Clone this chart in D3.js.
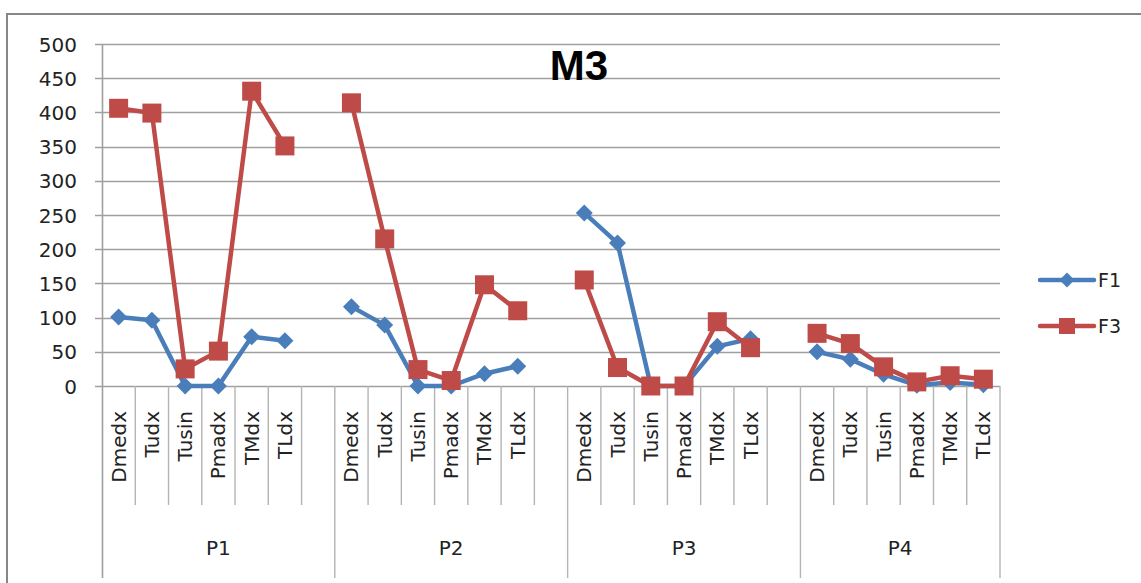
<!DOCTYPE html>
<html>
<head>
<meta charset="utf-8">
<script src="https://cdn.jsdelivr.net/npm/d3@7"></script>
<style>
  html, body { margin: 0; padding: 0; background: #fff; }
  svg { display: block; }
</style>
</head>
<body>
<svg id="chart" width="1141" height="583"></svg>
<script>
// Category groups and the measures inside each group
const groups = ["P1", "P2", "P3", "P4"];
const measures = ["Dmedx", "Tudx", "Tusin", "Pmadx", "TMdx", "TLdx"];

// Series values, six per group in the order of `measures`
const f1Values = [
  101, 96, 0, 0, 72, 66,
  116, 89, 0, 0, 18, 29,
  253, 209, 0, 0, 58, 69,
  50, 39, 17, 1, 5, 2
];
const f3Values = [
  406, 399, 25, 51, 431, 351,
  414, 215, 24, 8, 148, 110,
  155, 27, 0, 0, 94, 56,
  77, 62, 28, 6, 15, 10
];

const yTicks = [0, 50, 100, 150, 200, 250, 300, 350, 400, 450, 500];
const seriesNames = ["F1", "F3"];

const svg = d3.select("#chart");
const W = 1141, H = 583;
const FONT = "DejaVu Sans, Verdana, sans-serif";

// Slots along the category axis: every group but the last is followed by an empty slot
const slots = [];
groups.forEach((g, gi) => {
  measures.forEach((m, mi) => slots.push({ id: g + "|" + m, group: g, label: m, idx: gi * measures.length + mi }));
  if (gi < groups.length - 1) slots.push({ id: g + "|gap", group: g, label: "", idx: null });
});

const plot = { left: 102, right: 1000, top: 44, bottom: 386 };

const x = d3.scaleBand()
  .domain(slots.map(s => s.id))
  .range([plot.left, plot.right])
  .padding(0);

const y = d3.scaleLinear()
  .domain([0, 500])
  .range([plot.bottom, plot.top]);

// Outer chart frame
svg.append("rect")
  .attr("x", 7).attr("y", 14)
  .attr("width", W + 20).attr("height", H + 20)
  .attr("fill", "#fff")
  .attr("stroke", "#878787")
  .attr("stroke-width", 2);

// Horizontal gridlines with tick marks running left of the axis
svg.append("g")
  .selectAll("line")
  .data(yTicks)
  .join("line")
  .attr("x1", plot.left - 7).attr("x2", plot.right)
  .attr("y1", d => Math.round(y(d)) + 0.5).attr("y2", d => Math.round(y(d)) + 0.5)
  .attr("stroke", "#a0a0a0")
  .attr("stroke-width", 1.6);

// Value axis
const yAxis = svg.append("g")
  .attr("transform", `translate(${plot.left},0)`)
  .call(d3.axisLeft(y).tickValues(yTicks).tickSize(0).tickPadding(25));
yAxis.select(".domain").remove();
yAxis.selectAll("text")
  .attr("font-family", FONT)
  .attr("font-size", 20)
  .attr("fill", "#222")
  .attr("dy", "0.35em");

// Vertical axis line, extended down through the category area
svg.append("line")
  .attr("x1", plot.left + 0.5).attr("x2", plot.left + 0.5)
  .attr("y1", plot.top).attr("y2", 578)
  .attr("stroke", "#a0a0a0").attr("stroke-width", 1.6);

// Slot separators in the category area
const sepG = svg.append("g");
slots.forEach((s, i) => {
  const xr = x(s.id) + x.bandwidth();
  const isGroupEnd = (i === slots.length - 1) || slots[i + 1].group !== s.group;
  sepG.append("line")
    .attr("x1", xr).attr("x2", xr)
    .attr("y1", plot.bottom).attr("y2", isGroupEnd ? 578 : 505)
    .attr("stroke", "#b4b4b4").attr("stroke-width", 1.4);
});

// Measure labels, rotated
svg.append("g")
  .selectAll("text")
  .data(slots.filter(s => s.label))
  .join("text")
  .attr("transform", d => `translate(${x(d.id) + x.bandwidth() / 2 + 7},411) rotate(-90)`)
  .attr("text-anchor", "end")
  .attr("font-family", FONT)
  .attr("font-size", 20)
  .attr("fill", "#222")
  .text(d => d.label);

// Group labels centred under each group
svg.append("g")
  .selectAll("text")
  .data(groups)
  .join("text")
  .attr("x", g => {
    const ids = slots.filter(s => s.group === g);
    return (x(ids[0].id) + x(ids[ids.length - 1].id) + x.bandwidth()) / 2;
  })
  .attr("y", 555)
  .attr("text-anchor", "middle")
  .attr("font-family", FONT)
  .attr("font-size", 20)
  .attr("fill", "#222")
  .text(g => g);

// Marker shapes
const diamond = {
  draw(ctx, size) {
    const r = Math.sqrt(size) / 2;
    ctx.moveTo(0, -r); ctx.lineTo(r, 0); ctx.lineTo(0, r); ctx.lineTo(-r, 0); ctx.closePath();
  }
};
const series = [
  { name: seriesNames[0], values: f1Values, color: "#4A7EBB", symbol: d3.symbol(diamond, 17 * 17) },
  { name: seriesNames[1], values: f3Values, color: "#BE4B48", symbol: d3.symbol(d3.symbolSquare, 19 * 19) }
];

const line = d3.line()
  .defined(d => d.v != null)
  .x(d => x(d.id) + x.bandwidth() / 2)
  .y(d => y(d.v));

series.forEach(sr => {
  const pts = slots.map(s => ({ id: s.id, v: s.idx == null ? null : sr.values[s.idx] }));
  const g = svg.append("g");
  g.append("path")
    .datum(pts)
    .attr("d", line)
    .attr("fill", "none")
    .attr("stroke", sr.color)
    .attr("stroke-width", 4.5)
    .attr("stroke-linejoin", "round");
  g.selectAll("path.mk")
    .data(pts.filter(p => p.v != null))
    .join("path")
    .attr("class", "mk")
    .attr("transform", p => `translate(${x(p.id) + x.bandwidth() / 2},${y(p.v)})`)
    .attr("d", sr.symbol)
    .attr("fill", sr.color);
});

// Title
svg.append("text")
  .attr("x", 579).attr("y", 80)
  .attr("text-anchor", "middle")
  .attr("font-family", "Liberation Sans, Arial, sans-serif")
  .attr("font-weight", "bold")
  .attr("font-size", 42)
  .attr("fill", "#000")
  .text("M3");

// Legend
const legend = svg.append("g");
series.forEach((sr, i) => {
  const ly = 280 + i * 46;
  legend.append("line")
    .attr("x1", 1040).attr("x2", 1094)
    .attr("y1", ly).attr("y2", ly)
    .attr("stroke", sr.color).attr("stroke-width", 4.5)
    .attr("stroke-linecap", "round");
  legend.append("path")
    .attr("transform", `translate(1067,${ly})`)
    .attr("d", i === 0 ? d3.symbol(diamond, 15 * 15)() : d3.symbol(d3.symbolSquare, 16 * 16)())
    .attr("fill", sr.color);
  legend.append("text")
    .attr("x", 1098).attr("y", ly)
    .attr("dy", "0.35em")
    .attr("font-family", FONT)
    .attr("font-size", 19)
    .attr("fill", "#222")
    .text(sr.name);
});
</script>
</body>
</html>
